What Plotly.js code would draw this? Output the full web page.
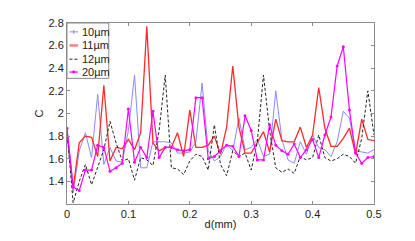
<!DOCTYPE html>
<html>
<head>
<meta charset="utf-8">
<script src="https://cdn.plot.ly/plotly-3.0.1.min.js"></script>
<style>html,body{margin:0;padding:0;background:#fff;}#chart{width:415px;height:241px;}</style>
</head>
<body>
<div id="chart"></div>
<script>
const d = [0,0.01,0.02,0.03,0.04,0.05,0.06,0.07,0.08,0.09,0.10,
  0.11,0.12,0.13,0.14,0.15,0.16,0.17,0.18,0.19,0.20,
  0.21,0.22,0.23,0.24,0.25,0.26,0.27,0.28,0.29,0.30,
  0.31,0.32,0.33,0.34,0.35,0.36,0.37,0.38,0.39,0.40,
  0.41,0.42,0.43,0.44,0.45,0.46,0.47,0.48,0.49,0.50];
const c10 = [1.80,1.30,1.67,1.83,1.61,2.17,1.55,1.70,1.58,1.57,1.85,
  2.34,1.52,1.52,1.75,1.75,1.75,1.74,1.65,1.65,1.66,
  1.75,2.27,1.67,1.58,1.62,1.73,1.67,1.96,1.68,1.70,
  1.77,1.62,1.64,2.20,1.77,1.59,1.56,1.75,1.64,1.81,
  1.70,1.68,1.62,1.75,2.02,1.96,1.67,1.66,1.65,1.68];
const c11 = [1.85,1.34,1.74,1.80,1.79,1.62,2.25,1.58,1.70,1.69,1.77,
  1.68,1.83,2.77,1.74,1.67,1.70,1.70,1.83,1.62,2.03,
  1.70,1.70,1.72,1.80,1.64,1.88,2.42,1.88,1.65,1.65,
  1.74,1.84,1.66,1.95,1.76,1.75,1.75,1.88,1.70,1.81,
  2.23,1.87,1.71,1.71,1.78,1.87,1.64,1.95,1.77,1.76];
const c12 = [1.85,1.21,1.40,1.55,1.37,1.52,1.68,1.93,1.74,1.58,1.60,
  1.41,1.61,1.59,1.54,1.85,2.34,1.52,1.51,1.46,1.58,
  1.64,1.62,1.50,1.90,1.55,1.45,1.67,1.62,1.65,1.50,
  1.75,2.34,1.85,1.52,1.48,1.51,1.47,1.62,1.59,1.61,
  1.81,1.61,1.58,1.60,1.64,1.62,1.56,1.78,2.20,1.81];
const c20 = [1.87,1.35,1.32,1.50,1.50,1.72,1.70,1.49,1.52,1.56,2.04,
  1.57,1.70,1.61,2.02,1.61,1.70,1.70,1.68,1.67,1.68,
  2.14,2.14,1.60,1.62,1.67,1.72,1.71,1.62,1.98,1.85,
  1.59,1.59,1.90,1.72,1.67,1.64,1.73,1.61,1.68,1.77,
  1.61,1.81,1.97,2.42,2.59,2.03,1.65,1.56,1.61,1.62];
const seriesNames = ['10\u00b5m','11\u00b5m','12\u00b5m','20\u00b5m'];
const xTicks = [0,0.1,0.2,0.3,0.4,0.5];
const xTickText = ['0','0.1','0.2','0.3','0.4','0.5'];
const yTicks = [1.4,1.6,1.8,2,2.2,2.4,2.6,2.8];
const yTickText = ['1.4','1.6','1.8','2','2.2','2.4','2.6','2.8'];

const styles = [
  {color:'#8a8aff', width:1},
  {color:'#ff2a2a', width:1.3},
  {color:'#222222', width:1, dash:'3px,2px'},
  {color:'#ff00ff', width:1.2}
];
const series = [c10, c11, c12, c20];
const traces = series.map((ys, i) => ({
  x:d, y:ys, name:seriesNames[i], mode: i === 3 ? 'lines+markers' : 'lines',
  line:styles[i], marker:{color:styles[i].color, size:3}, showlegend:false
}));

// compact MATLAB-style legend (layout decoration in paper coordinates)
const legRows = [0.951, 0.876, 0.800, 0.729];
const lx0 = 0.008, lx1 = 0.036, lxm = 0.022;
const shapes = [{type:'rect', xref:'paper', yref:'paper', x0:0, x1:0.136, y0:0.694, y1:1,
  line:{color:'#8c8c8c', width:1}, fillcolor:'#fff', layer:'above'}];
const annotations = [];
seriesNames.forEach((nm, i) => {
  const ls = Object.assign({}, styles[i]);
  if (i === 1) { ls.width = 2.5; ls.color = '#ff8080'; }
  shapes.push({type:'line', xref:'paper', yref:'paper', x0:lx0, x1:lx1, y0:legRows[i], y1:legRows[i], line:ls, layer:'above'});
  annotations.push({xref:'paper', yref:'paper', x:0.042, y:legRows[i], xanchor:'left', yanchor:'middle',
    text:nm, showarrow:false, font:{size:11, color:'#222'}});
});
shapes.push({type:'circle', xref:'paper', yref:'paper', x0:lxm-0.005, x1:lxm+0.005, y0:legRows[3]-0.008, y1:legRows[3]+0.008,
  line:{color:'#ff00ff', width:0}, fillcolor:'#ff00ff', layer:'above'});
shapes.push({type:'line', xref:'paper', yref:'paper', x0:lxm, x1:lxm, y0:legRows[0]-0.011, y1:legRows[0]+0.011,
  line:{color:'#8a8aff', width:1}, layer:'above'});

const axisCommon = {
  showgrid:false, zeroline:false, showline:true, linecolor:'#8c8c8c', linewidth:1,
  mirror:'ticks', ticks:'inside', ticklen:3, tickcolor:'#8c8c8c', automargin:true,
  tickfont:{family:'Liberation Sans, Arial, sans-serif', size:11, color:'#222'}
};
const layout = {
  width:415, height:241,
  margin:{l:67, r:41, t:23, b:35},
  paper_bgcolor:'#fff', plot_bgcolor:'#fff',
  font:{family:'Liberation Sans, Arial, sans-serif', size:11, color:'#222'},
  xaxis:Object.assign({}, axisCommon, {range:[0,0.5], tickvals:xTicks, ticktext:xTickText,
    title:{text:'d(mm)', standoff:1, font:{size:11}}}),
  yaxis:Object.assign({}, axisCommon, {range:[1.2,2.8], tickvals:yTicks, ticktext:yTickText,
    title:{text:'C', standoff:2, font:{size:11}}}),
  showlegend:false,
  shapes:shapes,
  annotations:annotations
};
Plotly.newPlot('chart', traces, layout, {displayModeBar:false, staticPlot:true});
</script>
</body>
</html>
